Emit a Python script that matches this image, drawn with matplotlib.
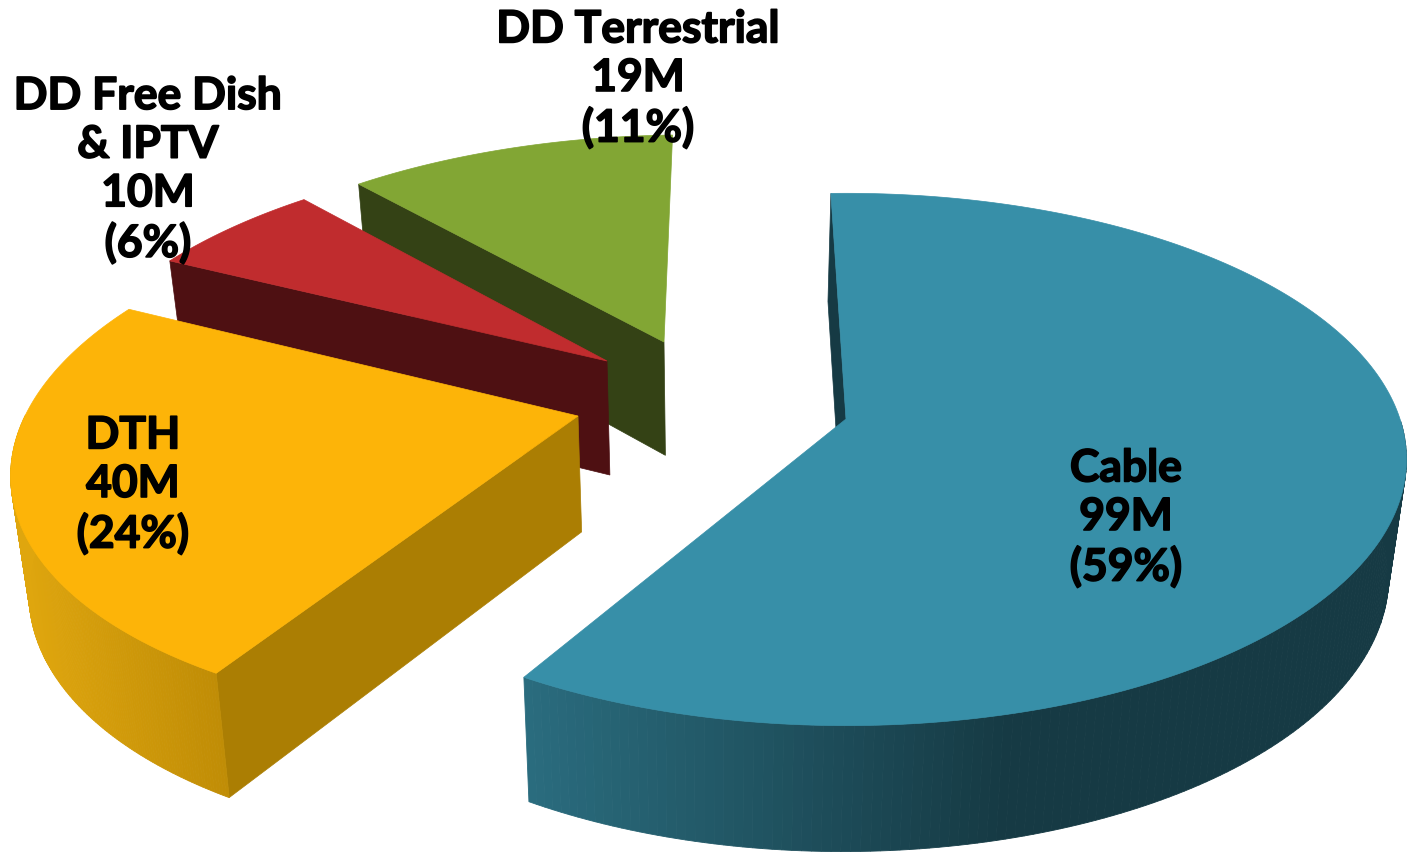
import numpy as np
import matplotlib
matplotlib.use("Agg")
import matplotlib.pyplot as plt
import matplotlib.patheffects as pe

# data
categories = ["Cable", "DTH", "DD Free Dish\n& IPTV", "DD Terrestrial"]
viewers = [99, 40, 10, 19]
shares = [59, 24, 6, 11]

top_colors = ["#378FA8", "#FDB408", "#C02C2E", "#82A634"]
side_colors = ["#163A44", "#AB7E03", "#4E1012", "#344215"]
# outer wall gradient, left colour -> right colour, and the x range it runs over
rim_left = ["#2A6C7E", "#DFA60E", "#4E1012", "#344215"]
rim_right = ["#163A44", "#BE8B05", "#4E1012", "#344215"]
rim_x = [(530, 1010), (20, 230), (0, 1), (0, 1)]

# apex of every exploded slice, in picture pixels
apex = [(846, 420), (578, 417), (607, 362), (664, 343)]
label_pos = [(1126, 519), (133, 486), (148, 171), (638, 80)]

# perspective of the fake 3D pie
VX, VY = 846, 420
A, B, P = 554, 260, 0.152
SHRINK_X, SHRINK = 718, 0.974
HEIGHT = 116
START = -1.8


def project(x, y):
    w = 1 + P * y
    return VX + A * x / w, VY - B * y / w


def drop(sx, y):
    w = 1 + P * y
    return SHRINK_X + (sx - SHRINK_X) * SHRINK, HEIGHT / np.sqrt(w)


def world(px, py):
    v = (VY - py) / B
    w = 1 / (1 - P * v)
    return (px - VX) / A * w, v * w


def rgb(c):
    return np.array(matplotlib.colors.to_rgb(c))


fig = plt.figure(figsize=(14.07, 8.54), dpi=100)
ax = fig.add_axes([0, 0, 1, 1])
ax.set_xlim(0, 1407)
ax.set_ylim(854, 0)
ax.axis("off")

angles = np.array(viewers) / sum(viewers) * 360
starts = START + np.concatenate([[0], np.cumsum(angles)[:-1]])

# back to front
for i in [3, 2, 1, 0]:
    ox, oy = world(*apex[i])
    t = np.radians(np.linspace(starts[i], starts[i] + angles[i], 240))
    wx = ox + np.sin(t)
    wy = oy + np.cos(t)
    sx, sy = project(wx, wy)
    bx, h = drop(sx, wy)
    by = sy + h
    ax0, ay0 = project(ox, oy)
    abx, ah = drop(ax0, oy)
    aby = ay0 + ah

    # the only radial wall that shows is the one at the start of the slice
    ax.fill([ax0, sx[0], bx[0], abx], [ay0, sy[0], by[0], aby],
            color=side_colors[i], lw=0.5)
    # outer wall in small strips so it can carry the gradient
    for k in range(len(t) - 1):
        if sy[k] < ay0:  # back part is hidden
            continue
        f = np.clip((sx[k] - rim_x[i][0]) / (rim_x[i][1] - rim_x[i][0]), 0, 1)
        c = rgb(rim_left[i]) * (1 - f) + rgb(rim_right[i]) * f
        ax.fill([sx[k], sx[k + 1], bx[k + 1], bx[k]],
                [sy[k], sy[k + 1], by[k + 1], by[k]], color=c, lw=0.6)
    # top face
    ax.fill(np.r_[ax0, sx], np.r_[ay0, sy], color=top_colors[i], lw=0.5)

plt.rcParams["font.family"] = ["Lato", "DejaVu Sans"]
for i in range(4):
    txt = ax.text(label_pos[i][0], label_pos[i][1],
                  f"{categories[i]}\n{viewers[i]}M\n({shares[i]}%)",
                  ha="center", va="center", fontsize=32, fontweight="bold",
                  color="black", linespacing=1.26)
    # the original face is heavier than Lato Bold
    txt.set_path_effects([pe.withStroke(linewidth=1.2, foreground="black")])

fig.savefig("out.png", dpi=100)
